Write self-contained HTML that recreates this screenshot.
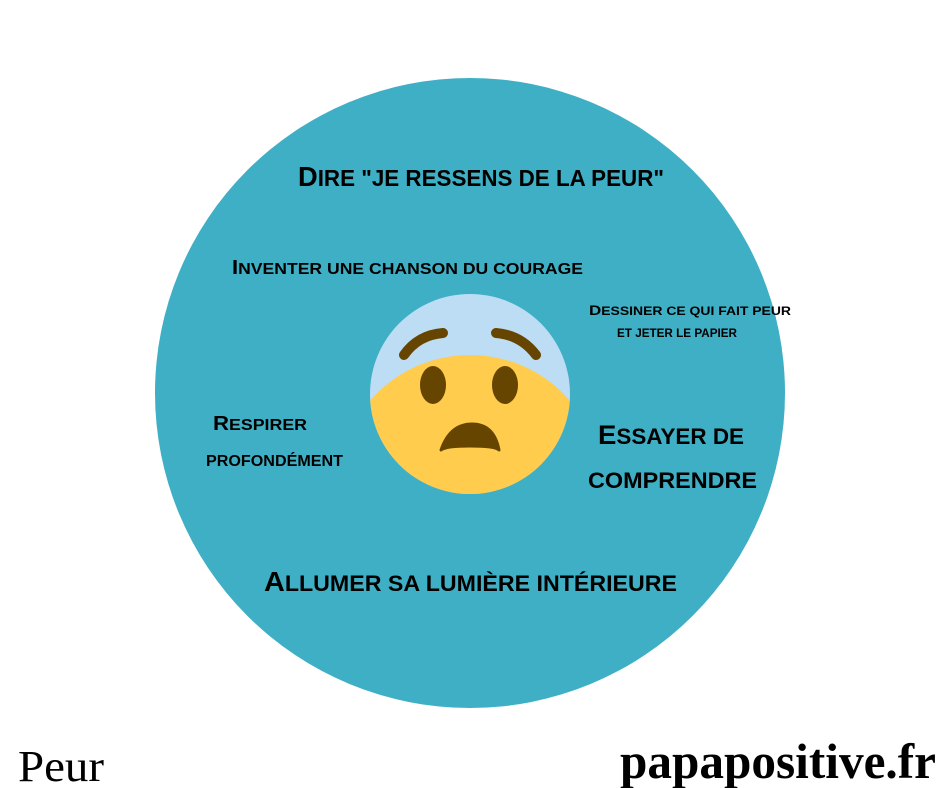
<!DOCTYPE html>
<html><head><meta charset="utf-8"><style>
html,body{margin:0;padding:0;background:#fff;width:940px;height:788px;overflow:hidden}
svg{display:block}
.t{font-family:"Liberation Sans",sans-serif;font-weight:bold;fill:#000}
</style></head><body>
<svg width="940" height="788" viewBox="0 0 940 788">
<circle cx="470" cy="393" r="315" fill="#3EAFC4"/>
<defs><clipPath id="c"><circle cx="470" cy="394" r="100"/></clipPath></defs>
<g clip-path="url(#c)">
<rect x="360" y="290" width="220" height="210" fill="#BDDDF4"/>
<ellipse cx="470" cy="482" rx="130" ry="127" fill="#FFCC4D"/>
</g>
<ellipse cx="433" cy="385" rx="13" ry="19" fill="#664500"/>
<ellipse cx="505" cy="385" rx="13" ry="19" fill="#664500"/>
<path d="M404,355 Q418,335 443,333" stroke="#664500" stroke-width="10" fill="none" stroke-linecap="round"/>
<path d="M496,333 Q521,335 536,355" stroke="#664500" stroke-width="10" fill="none" stroke-linecap="round"/>
<path d="M441,450 Q450,424 472,424 Q494,424 499,450 Q495,446 470,446 Q446,446 441,450 Z" fill="#664500" stroke="#664500" stroke-width="3" stroke-linejoin="round"/>
<text class="t" x="298" y="186" font-size="23" textLength="366" lengthAdjust="spacingAndGlyphs"><tspan font-size="28">D</tspan>IRE "JE RESSENS DE LA PEUR"</text>
<text class="t" x="232" y="274" font-size="16" textLength="351" lengthAdjust="spacingAndGlyphs"><tspan font-size="20">I</tspan>NVENTER UNE CHANSON DU COURAGE</text>
<text class="t" x="589" y="315" font-size="11.5" textLength="202" lengthAdjust="spacingAndGlyphs"><tspan font-size="14">D</tspan>ESSINER CE QUI FAIT PEUR</text>
<text class="t" x="617" y="337" font-size="11.5" textLength="120" lengthAdjust="spacingAndGlyphs">ET JETER LE PAPIER</text>
<text class="t" x="213" y="430" font-size="16" textLength="94" lengthAdjust="spacingAndGlyphs"><tspan font-size="20">R</tspan>ESPIRER</text>
<text class="t" x="206" y="466" font-size="16" textLength="137" lengthAdjust="spacingAndGlyphs">PROFONDÉMENT</text>
<text class="t" x="598" y="444" font-size="22" textLength="146" lengthAdjust="spacingAndGlyphs"><tspan font-size="27">E</tspan>SSAYER DE</text>
<text class="t" x="588" y="488" font-size="22" textLength="169" lengthAdjust="spacingAndGlyphs">COMPRENDRE</text>
<text class="t" x="264" y="591" font-size="22.5" textLength="413" lengthAdjust="spacingAndGlyphs"><tspan font-size="28">A</tspan>LLUMER SA LUMIÈRE INTÉRIEURE</text>
<text x="18" y="781" font-family="Liberation Serif,serif" font-size="44" textLength="86" lengthAdjust="spacingAndGlyphs">Peur</text>
<text x="620" y="778" font-family="Liberation Serif,serif" font-weight="bold" font-size="50" textLength="316" lengthAdjust="spacingAndGlyphs">papapositive.fr</text>
</svg>
</body></html>
